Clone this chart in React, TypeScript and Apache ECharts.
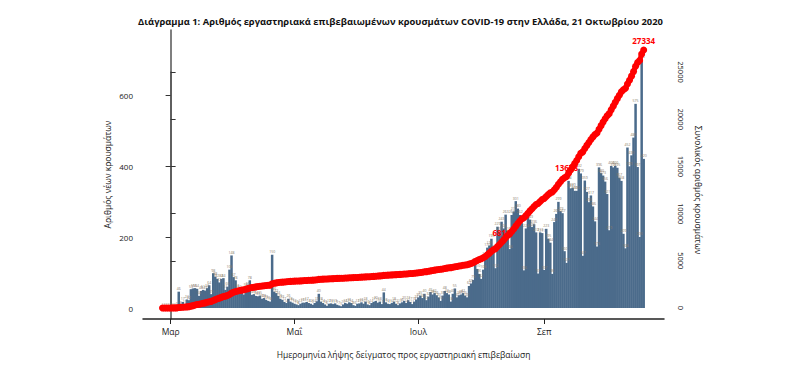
import React, { useEffect, useRef } from "react";
import * as echarts from "echarts";

const TITLE =
  "Διάγραμμα 1: Αριθμός εργαστηριακά επιβεβαιωμένων κρουσμάτων COVID-19 στην Ελλάδα, 21 Οκτωβρίου 2020";
const X_NAME = "Ημερομηνία λήψης δείγματος προς εργαστηριακή επιβεβαίωση";
const Y_LEFT_NAME = "Αριθμός νέων κρουσμάτων";
const Y_RIGHT_NAME = "Συνολικός αριθμός κρουσμάτων";

const FIRST_DAY = "2020-02-26";
const febValues = [1, 2, 2, 2];
const marValues = [
  2, 2, 2, 3, 46, 8, 17, 11, 24, 22,
  53, 55, 56, 54, 34, 48, 51, 49, 56, 64,
  39, 98, 88, 82, 72, 82, 84, 51, 60, 108, 148,
];
const aprValues = [
  87, 78, 56, 51, 46, 38, 58, 60, 78, 37,
  39, 34, 33, 35, 26, 28, 23, 20, 18, 150,
  46, 42, 34, 26, 23, 17, 14, 26, 18, 15,
];
const mayValues = [
  12, 10, 8, 12, 15, 15, 17, 14, 12, 9,
  14, 19, 40, 18, 14, 10, 6, 12, 13, 11,
  13, 9, 7, 5, 10, 14, 12, 16, 14, 8, 6,
];
const junValues = [
  12, 13, 16, 12, 18, 10, 8, 14, 17, 20,
  15, 18, 11, 44, 16, 12, 11, 14, 18, 12,
  8, 13, 16, 20, 14, 22, 17, 11, 18, 24,
];
const julValues = [
  30, 35, 28, 40, 22, 32, 45, 38, 42, 36,
  30, 20, 35, 48, 42, 38, 18, 40, 55, 30,
  36, 38, 42, 35, 30, 62, 69, 79, 128, 110, 96,
];
const augValues = [
  82, 108, 144, 170, 176, 195, 164, 112, 229, 215,
  243, 224, 263, 216, 166, 262, 272, 301, 280, 262,
  239, 106, 224, 259, 249, 228, 236, 213, 97, 213, 211,
];
const sepValues = [
  107, 223, 195, 184, 96, 242, 265, 299, 273, 267,
  160, 127, 358, 337, 339, 330, 330, 392, 379, 147,
  359, 327, 298, 317, 286, 244, 173, 396, 380, 373,
];
const octValues = [
  356, 321, 219, 400, 396, 400, 395, 367, 358, 209,
  168, 452, 399, 430, 480, 575, 397, 200, 700, 420,
];

const monthTicks = [
  { date: "2020-03-01", label: "Μαρ" },
  { date: "2020-05-01", label: "Μαΐ" },
  { date: "2020-07-01", label: "Ιουλ" },
  { date: "2020-09-01", label: "Σεπ" },
];
const leftTickMax = 600;
const leftTickStep = 200;
const rightTickStep = 5000;
const markedTotals = [
  { date: "2020-08-11", text: "6818" },
  { date: "2020-09-12", text: "13678" },
  { date: "2020-10-20", text: "27334" },
];

const FONT = "'Open Sans', 'Noto Sans', 'DejaVu Sans', sans-serif";
const BAR_COLOR = "#4b6b8b";
const RED = "#ff0000";
const TEXT = "#222222";

const ORIGIN = Date.UTC(2020, 2, 1);
function dayIndex(s: string): number {
  const [y, m, d] = s.split("-").map(Number);
  return Math.round((Date.UTC(y, m - 1, d) - ORIGIN) / 86400000);
}

export default function App() {
  const ref = useRef<HTMLDivElement>(null);

  useEffect(() => {
    document.body.style.margin = "0";
    if (!ref.current) return;
    const chart = echarts.init(ref.current, undefined, { renderer: "svg" });

    const daily = [
      ...febValues, ...marValues, ...aprValues, ...mayValues, ...junValues,
      ...julValues, ...augValues, ...sepValues, ...octValues,
    ];
    const start = dayIndex(FIRST_DAY);
    const markedIdx = markedTotals.map((m) => dayIndex(m.date) - start);

    const barData = daily.map((v, i) => [start + i, v]);

    let run = 0;
    const cumData: any[] = daily.map((v, i) => {
      run += v;
      return { value: [start + i, run] };
    });
    markedTotals.forEach((m, j) => {
      const idx = markedIdx[j];
      if (cumData[idx]) {
        cumData[idx] = {
          value: cumData[idx].value,
          label: {
            show: true,
            formatter: m.text,
            position: "top",
            distance: 2,
            color: RED,
            fontSize: 8,
            fontWeight: "bold",
            fontFamily: FONT,
          },
        };
      }
    });

    const tickDays = monthTicks.map((t) => dayIndex(t.date));
    const tickLabel: Record<number, string> = {};
    monthTicks.forEach((t) => (tickLabel[dayIndex(t.date)] = t.label));

    const xMin = -13.6;
    const xMax = 243;
    const leftMax = 783;

    chart.setOption({
      animation: false,
      title: {
        text: TITLE,
        left: "center",
        top: 12,
        textStyle: { fontSize: 9.4, fontWeight: "bold", color: "#111", fontFamily: FONT },
      },
      grid: [
        { left: 143, right: 137, top: 30, bottom: 51 },
        { left: 143, right: 137, top: 30, bottom: 62 },
        { left: 143, right: 137, top: 72, bottom: 62 },
        { left: 143, right: 137, top: 95, bottom: 62 },
      ],
      xAxis: [
        {
          type: "value",
          gridIndex: 0,
          min: xMin,
          max: xMax,
          splitLine: { show: false },
          axisLine: { show: true, lineStyle: { color: "#222", width: 1.5 } },
          axisTick: { show: true, customValues: tickDays, length: 5, lineStyle: { color: "#222", width: 1 } },
          axisLabel: {
            show: true,
            customValues: tickDays,
            formatter: (v: number) => tickLabel[Math.round(v)] ?? "",
            fontSize: 8.5,
            color: TEXT,
            margin: 8,
            fontFamily: FONT,
          },
          name: X_NAME,
          nameLocation: "middle",
          nameGap: 31,
          nameTextStyle: { fontSize: 8.5, color: TEXT, fontFamily: FONT },
        },
        { type: "value", gridIndex: 1, min: xMin, max: xMax, show: false, splitLine: { show: false } },
        { type: "value", gridIndex: 2, min: xMin, max: xMax, show: false, splitLine: { show: false } },
        { type: "value", gridIndex: 3, min: xMin, max: xMax, show: false, splitLine: { show: false } },
      ],
      yAxis: [
        {
          type: "value",
          gridIndex: 0,
          position: "left",
          min: 0,
          max: 1,
          splitLine: { show: false },
          axisLine: { show: true, lineStyle: { color: "#555", width: 1.5 } },
          axisTick: { show: false },
          axisLabel: { show: false },
          name: Y_LEFT_NAME,
          nameLocation: "middle",
          nameRotate: 90,
          nameGap: 31,
          nameTextStyle: { fontSize: 8.5, color: TEXT, fontFamily: FONT },
        },
        {
          type: "value",
          gridIndex: 1,
          position: "left",
          min: 0,
          max: leftMax,
          show: false,
          splitLine: { show: false },
        },
        {
          type: "value",
          gridIndex: 2,
          position: "right",
          min: 0,
          max: 25000,
          interval: rightTickStep,
          splitLine: { show: false },
          axisLine: { show: true, lineStyle: { color: "#555", width: 1.5 } },
          axisTick: { show: true, length: 5, lineStyle: { color: "#333" } },
          axisLabel: {
            show: true,
            rotate: -90,
            fontSize: 7.5,
            color: TEXT,
            margin: 13,
            formatter: (v: number) => String(v),
            fontFamily: FONT,
          },
          name: Y_RIGHT_NAME,
          nameLocation: "middle",
          nameRotate: -90,
          nameGap: 30,
          nameTextStyle: { fontSize: 8.5, color: TEXT, fontFamily: FONT },
        },
        {
          type: "value",
          gridIndex: 3,
          position: "left",
          min: 0,
          max: leftTickMax,
          interval: leftTickStep,
          splitLine: { show: false },
          axisLine: { show: false },
          axisTick: { show: true, length: 5, lineStyle: { color: "#333" } },
          axisLabel: {
            show: true,
            fontSize: 8,
            color: TEXT,
            margin: 10,
            fontFamily: FONT,
          },
        },
      ],
      series: [
        {
          type: "bar",
          xAxisIndex: 1,
          yAxisIndex: 1,
          data: barData,
          barWidth: 2.5,
          itemStyle: { color: BAR_COLOR },
          label: {
            show: true,
            position: "top",
            distance: 1,
            fontSize: 3.5,
            color: "#8a7a68",
            fontFamily: FONT,
          },
        },
        {
          type: "line",
          xAxisIndex: 2,
          yAxisIndex: 2,
          data: cumData,
          clip: false,
          symbol: "circle",
          symbolSize: 7,
          showSymbol: true,
          showAllSymbol: true,
          itemStyle: { color: RED },
          lineStyle: { color: RED, width: 5 },
          z: 5,
        },
      ],
    });

    return () => chart.dispose();
  }, []);

  return <div ref={ref} style={{ width: 801, height: 370 }} />;
}
